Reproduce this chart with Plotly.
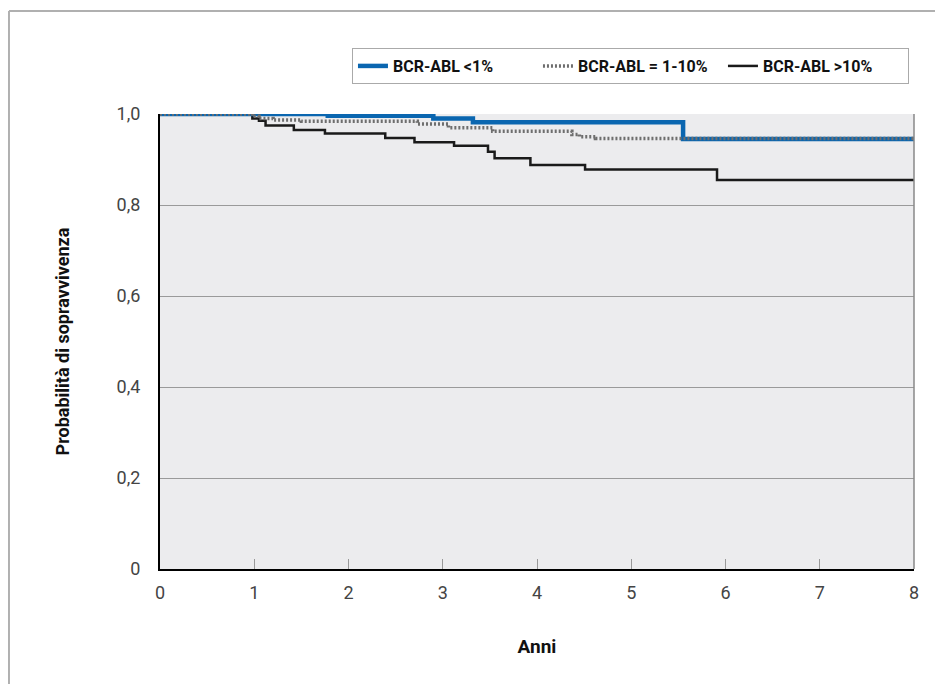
import plotly.graph_objects as go

# Kaplan-Meier step data (years, survival probability)
blue_t = [0, 1.78, 2.9, 3.32, 5.55, 8]
blue_s = [1.0, 0.996, 0.990, 0.982, 0.945, 0.945]

dot_t = [0, 0.98, 1.05, 1.2, 1.5, 2.73, 3.06, 3.53, 4.37, 4.45, 4.62, 8]
dot_s = [1.0, 0.995, 0.990, 0.987, 0.984, 0.978, 0.970, 0.962, 0.955, 0.950, 0.946, 0.946]

blk_t = [0, 0.98, 1.05, 1.12, 1.42, 1.75, 2.39, 2.7, 3.12, 3.48, 3.55, 3.93, 4.51, 5.91, 8]
blk_s = [1.0, 0.990, 0.985, 0.975, 0.965, 0.957, 0.947, 0.938, 0.930, 0.917, 0.903, 0.888, 0.878, 0.855, 0.855]

names = ["BCR-ABL <1%", "BCR-ABL = 1-10%", "BCR-ABL >10%"]
y_ticks = [0, 0.2, 0.4, 0.6, 0.8, 1.0]
y_ticktext = ["0", "0,2", "0,4", "0,6", "0,8", "1,0"]
x_ticks = [0, 1, 2, 3, 4, 5, 6, 7, 8]

FONT = "Roboto, Liberation Sans Narrow, sans-serif"

fig = go.Figure()
fig.add_trace(go.Scatter(x=blk_t, y=blk_s, mode="lines", line_shape="hv",
                         line=dict(color="#1a1a1a", width=2.5), name=names[2],
                         legendrank=3))
fig.add_trace(go.Scatter(x=blue_t, y=blue_s, mode="lines", line_shape="hv",
                         line=dict(color="#0a66b0", width=4.5), name=names[0],
                         legendrank=1))
fig.add_trace(go.Scatter(x=dot_t, y=dot_s, mode="lines", line_shape="hv",
                         line=dict(color="#6e6e6e", width=3.5, dash="2px,2px"), name=names[1],
                         legendrank=2))

# body margin of the page is 8px: compensate so the plot area lands at the same pixels
fig.update_layout(
    width=935, height=676,
    margin=dict(l=152, r=29, t=106, b=115),
    paper_bgcolor="white",
    plot_bgcolor="#ececee",
    font=dict(family=FONT, size=18, color="#444"),
    showlegend=True,
    legend=dict(orientation="h", x=0.2546, y=1.145, xanchor="left", yanchor="top",
                bordercolor="#aaaaaa", borderwidth=1, bgcolor="white",
                font=dict(family=FONT, size=16, color="#111", weight="bold"),
                entrywidth=140, itemwidth=30, traceorder="normal"),
)
fig.update_xaxes(range=[0, 8], tickvals=x_ticks, ticks="inside", ticklen=10,
                 tickcolor="#999", showgrid=False, zeroline=False,
                 showline=True, linecolor="black", linewidth=2,
                 ticklabelstandoff=6,
                 tickfont=dict(size=18, color="#444"),
                 title=dict(text="<b>Anni</b>", font=dict(size=19, color="#111"), standoff=38))
fig.update_yaxes(range=[0, 1.0], tickvals=y_ticks, ticktext=y_ticktext,
                 ticks="", showgrid=True, gridcolor="#9a9a9a", gridwidth=1,
                 zeroline=False, showline=True, linecolor="black", linewidth=2,
                 ticklabelstandoff=14,
                 tickfont=dict(size=18, color="#444"),
                 title=dict(text="<b>Probabilità di sopravvivenza</b>",
                            font=dict(size=18, color="#111"), standoff=42))

# right border of plot area
fig.add_shape(type="line", xref="paper", yref="paper", x0=1, x1=1, y0=0, y1=1,
              line=dict(color="#888", width=1.5))
# outer frame (left and top)
fig.add_shape(type="line", xref="paper", yref="paper", x0=-0.2003, x1=-0.2003,
              y0=-0.26, y1=1.2264, line=dict(color="#b0b0b0", width=2))
fig.add_shape(type="line", xref="paper", yref="paper", x0=-0.2003, x1=1.05,
              y0=1.2264, y1=1.2264, line=dict(color="#b0b0b0", width=2))

fig.write_html("out.html")
